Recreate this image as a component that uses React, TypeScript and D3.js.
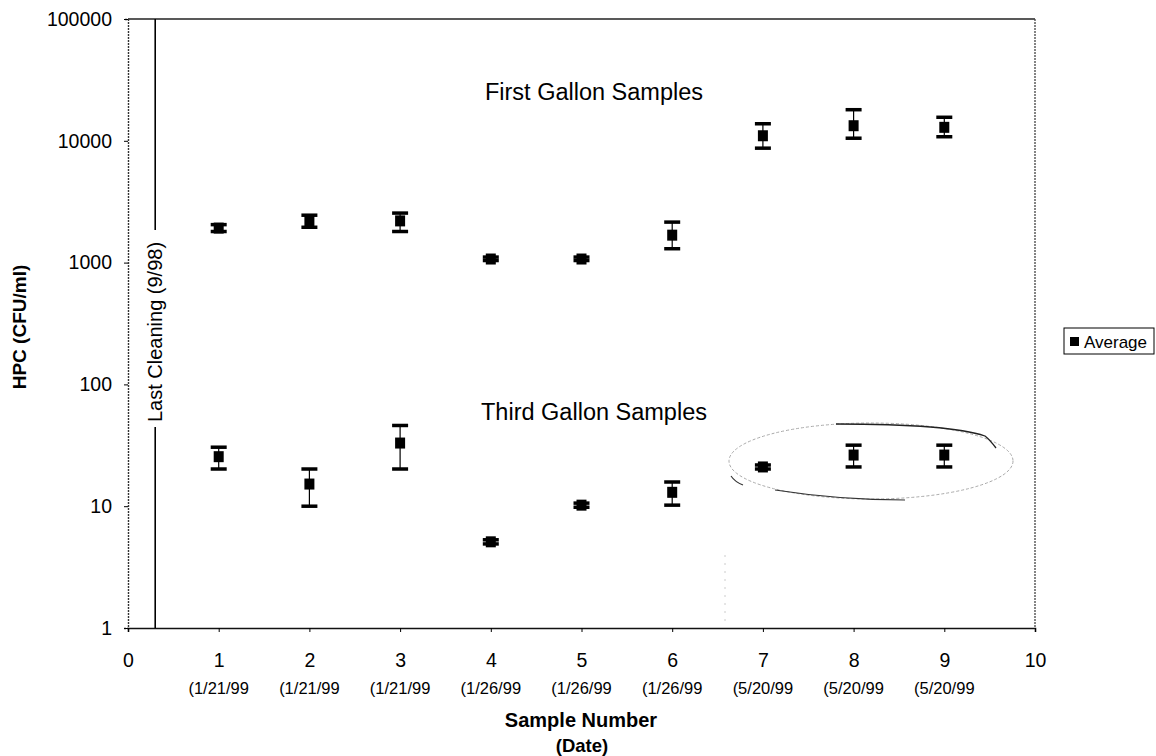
import React, { useEffect, useRef } from "react";
import * as d3 from "d3";

// sample numbers and their dates
const samples = [1, 2, 3, 4, 5, 6, 7, 8, 9];
const dates = ["(1/21/99", "(1/21/99", "(1/21/99", "(1/26/99", "(1/26/99", "(1/26/99", "(5/20/99", "(5/20/99", "(5/20/99"];

// First gallon samples: average, upper, lower
const firstAvg = [1920, 2200, 2200, 1070, 1070, 1680, 11000, 13300, 12900];
const firstHi = [2050, 2450, 2550, 1110, 1110, 2150, 13800, 18000, 15600];
const firstLo = [1800, 1950, 1800, 1040, 1040, 1300, 8700, 10500, 10800];

// Third gallon samples
const thirdAvg = [25.5, 15.2, 33, 5.1, 10.2, 13, 21, 26.3, 26.3];
const thirdHi = [30.5, 20.2, 46, 5.3, 10.6, 15.8, 21.8, 31.7, 31.7];
const thirdLo = [20.2, 10, 20.2, 4.9, 9.8, 10.2, 20.2, 21, 21];

const yTicks = [1, 10, 100, 1000, 10000, 100000];
const xTicks = [0, 1, 2, 3, 4, 5, 6, 7, 8, 9, 10];
const cleaningX = 0.3;

const FONT = "'Liberation Sans', Arial, sans-serif";

function App() {
  const ref = useRef<SVGSVGElement | null>(null);

  useEffect(() => {
    const svg = d3.select(ref.current);
    svg.selectAll("*").remove();

    const left = 128, right = 1035, top = 19, bottom = 628;

    const x = d3.scaleLinear().domain([0, 10]).range([left, right]);
    const y = d3.scaleLog().domain([1, 100000]).range([bottom, top]);

    // plot area frame (top + right)
    svg.append("line")
      .attr("x1", left).attr("x2", right).attr("y1", top).attr("y2", top)
      .attr("stroke", "#222").attr("stroke-width", 1.3);
    svg.append("line")
      .attr("x1", right).attr("x2", right).attr("y1", top).attr("y2", bottom)
      .attr("stroke", "#444").attr("stroke-width", 1.3).attr("stroke-dasharray", "2,1");

    // Y axis
    const yAxis = svg.append("g")
      .attr("transform", `translate(${left},0)`)
      .call(d3.axisLeft(y).tickValues(yTicks).tickFormat(d3.format("d")).tickSize(4).tickPadding(12));
    yAxis.select(".domain").attr("stroke", "#333").attr("stroke-width", 1.4).attr("stroke-dasharray", "2,1");
    yAxis.selectAll("text").attr("font-family", FONT).attr("font-size", 19.5).attr("fill", "#000");

    // X axis
    const xAxis = svg.append("g")
      .attr("transform", `translate(0,${bottom})`)
      .call(d3.axisBottom(x).tickValues(xTicks).tickFormat(d3.format("d")).tickSize(4).tickPadding(21));
    xAxis.select(".domain").attr("stroke", "#111").attr("stroke-width", 1.6);
    xAxis.selectAll("text").attr("font-family", FONT).attr("font-size", 19.5).attr("fill", "#000");

    // date labels below sample numbers
    svg.append("g").selectAll("text")
      .data(samples)
      .join("text")
      .attr("x", (d) => x(d))
      .attr("y", 694)
      .attr("text-anchor", "middle")
      .attr("font-family", FONT)
      .attr("font-size", 16.5)
      .text((d, i) => dates[i]);

    // axis titles
    svg.append("text")
      .attr("x", 581).attr("y", 727)
      .attr("text-anchor", "middle")
      .attr("font-family", FONT).attr("font-size", 20).attr("font-weight", "bold")
      .text("Sample Number");
    svg.append("text")
      .attr("x", 582).attr("y", 752)
      .attr("text-anchor", "middle")
      .attr("font-family", FONT).attr("font-size", 18.5).attr("font-weight", "bold")
      .text("(Date)");
    svg.append("text")
      .attr("transform", `translate(26,327) rotate(-90)`)
      .attr("text-anchor", "middle")
      .attr("font-family", FONT).attr("font-size", 19).attr("font-weight", "bold")
      .text("HPC (CFU/ml)");

    // last cleaning line with label
    const cx = x(cleaningX);
    svg.append("line")
      .attr("x1", cx).attr("x2", cx).attr("y1", top).attr("y2", 230)
      .attr("stroke", "#000").attr("stroke-width", 1.6);
    svg.append("line")
      .attr("x1", cx).attr("x2", cx).attr("y1", 427).attr("y2", bottom)
      .attr("stroke", "#000").attr("stroke-width", 1.6);
    svg.append("text")
      .attr("transform", `translate(${cx + 7},332) rotate(-90)`)
      .attr("text-anchor", "middle")
      .attr("font-family", FONT).attr("font-size", 20)
      .text("Last Cleaning (9/98)");

    // group labels
    svg.append("text")
      .attr("x", 594).attr("y", 100)
      .attr("text-anchor", "middle")
      .attr("font-family", FONT).attr("font-size", 23.5)
      .text("First Gallon Samples");
    svg.append("text")
      .attr("x", 594).attr("y", 420)
      .attr("text-anchor", "middle")
      .attr("font-family", FONT).attr("font-size", 23.5)
      .text("Third Gallon Samples");

    // hand drawn ellipse around the last three third-gallon points
    const ellipse = svg.append("g");
    ellipse.append("ellipse")
      .attr("cx", 871).attr("cy", 461).attr("rx", 142).attr("ry", 38)
      .attr("fill", "none").attr("stroke", "#aaa").attr("stroke-width", 1)
      .attr("stroke-dasharray", "3,2");
    ellipse.append("path")
      .attr("d", "M 836 424 Q 950 424 985 436 Q 990 440 996 448")
      .attr("fill", "none").attr("stroke", "#222").attr("stroke-width", 1.3);
    ellipse.append("path")
      .attr("d", "M 775 490 Q 840 500 905 500")
      .attr("fill", "none").attr("stroke", "#333").attr("stroke-width", 1.1);
    ellipse.append("path")
      .attr("d", "M 731 476 Q 735 482 743 485")
      .attr("fill", "none").attr("stroke", "#333").attr("stroke-width", 1.1);
    // faint pencil dots below the ellipse
    svg.append("line")
      .attr("x1", 725).attr("x2", 725).attr("y1", 555).attr("y2", 626)
      .attr("stroke", "#ccc").attr("stroke-width", 1).attr("stroke-dasharray", "2,6");

    // error bars + markers
    const drawSeries = (avg: number[], hi: number[], lo: number[]) => {
      const g = svg.append("g");
      samples.forEach((s, i) => {
        const px = x(s);
        g.append("line")
          .attr("x1", px).attr("x2", px).attr("y1", y(hi[i])).attr("y2", y(lo[i]))
          .attr("stroke", "#000").attr("stroke-width", 1.2);
        [hi[i], lo[i]].forEach((v) => {
          g.append("line")
            .attr("x1", px - 8).attr("x2", px + 8).attr("y1", y(v)).attr("y2", y(v))
            .attr("stroke", "#000").attr("stroke-width", 3.5);
        });
        g.append("rect")
          .attr("x", px - 5).attr("y", y(avg[i]) - 5.5)
          .attr("width", 10).attr("height", 11)
          .attr("fill", "#000");
      });
    };
    drawSeries(firstAvg, firstHi, firstLo);
    drawSeries(thirdAvg, thirdHi, thirdLo);

    // legend
    const lg = svg.append("g").attr("transform", "translate(1064,328)");
    lg.append("rect")
      .attr("width", 90).attr("height", 26)
      .attr("fill", "#fff").attr("stroke", "#000").attr("stroke-width", 1);
    lg.append("rect")
      .attr("x", 6).attr("y", 9).attr("width", 9).attr("height", 9).attr("fill", "#000");
    lg.append("text")
      .attr("x", 20).attr("y", 20)
      .attr("font-family", FONT).attr("font-size", 17)
      .text("Average");
  }, []);

  return (
    <svg
      ref={ref}
      width={1156}
      height={756}
      style={{ position: "absolute", left: 0, top: 0, background: "#fff" }}
    />
  );
}

export default App;
